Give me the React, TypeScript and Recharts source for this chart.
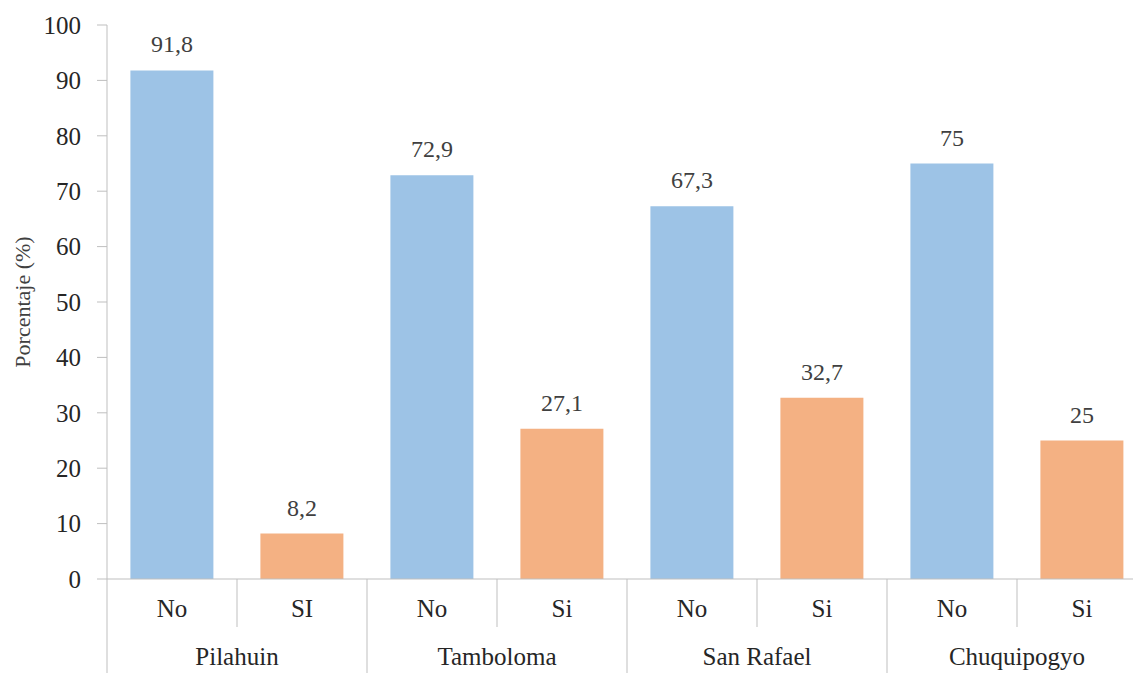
import { BarChart, Bar, XAxis, YAxis, Cell, LabelList } from 'recharts';

const groups = ['Pilahuin', 'Tamboloma', 'San Rafael', 'Chuquipogyo'];
const answers = ['No', 'SI', 'No', 'Si', 'No', 'Si', 'No', 'Si'];
const noValues = [91.8, 72.9, 67.3, 75];
const siValues = [8.2, 27.1, 32.7, 25];
const yTicks = [0, 10, 20, 30, 40, 50, 60, 70, 80, 90, 100];

const data = answers.map((answer, i) => {
  const g = Math.floor(i / 2);
  return {
    key: `${groups[g]}-${answer}-${i}`,
    answer,
    group: groups[g],
    value: i % 2 === 0 ? noValues[g] : siValues[g],
  };
});

const CHART_W = 1160;
const CHART_H = 673;
const Y_AXIS_W = 107;
const MARGIN = { top: 25, right: 13, left: 0, bottom: 0 };
const BAND = (CHART_W - MARGIN.left - MARGIN.right - Y_AXIS_W) / data.length;

const BLUE = '#9DC3E6';
const ORANGE = '#F4B183';
const GRID = '#BFBFBF';
const SERIF = 'Liberation Serif';
const textStyle = { fontFamily: SERIF, fontSize: 25, fill: '#262626' };

// Two-level category axis: answer under each bar, district under each pair
function CategoryTick(props: any) {
  const { x, y, payload } = props;
  const i = payload.index;
  const row = data[i];
  const left = x - BAND / 2;
  return (
    <g>
      <line x1={left} y1={y} x2={left} y2={y + (i % 2 === 0 ? 100 : 48)} stroke={GRID} strokeWidth={1} />
      <text x={x} y={y + 38} textAnchor="middle" style={textStyle}>
        {row.answer}
      </text>
      {i % 2 === 0 && (
        <text x={x + BAND / 2} y={y + 86} textAnchor="middle" style={textStyle}>
          {row.group}
        </text>
      )}
    </g>
  );
}

export default function App() {
  return (
    <div style={{ position: 'fixed', left: 0, top: 0, width: 1133, height: 673, overflow: 'hidden', background: '#fff' }}>
      <BarChart width={CHART_W} height={CHART_H} data={data} margin={MARGIN} barCategoryGap="18%">
        <XAxis
          dataKey="key"
          height={94}
          interval={0}
          tick={<CategoryTick />}
          tickLine={false}
          tickSize={0}
          tickMargin={0}
          axisLine={{ stroke: GRID }}
        />
        <YAxis
          width={Y_AXIS_W}
          domain={[0, 100]}
          ticks={yTicks}
          interval={0}
          tickSize={10}
          tickMargin={16}
          axisLine={{ stroke: GRID }}
          tickLine={{ stroke: GRID }}
          tick={{ fill: '#262626', fontSize: 25, fontFamily: SERIF }}
          label={{
            value: 'Porcentaje (%)',
            angle: -90,
            position: 'insideLeft',
            offset: 22,
            style: { textAnchor: 'middle', fontSize: 22, fill: '#404040', fontFamily: SERIF },
          }}
        />
        <Bar dataKey="value" isAnimationActive={false}>
          {data.map((d, i) => (
            <Cell key={d.key} fill={i % 2 === 0 ? BLUE : ORANGE} />
          ))}
          <LabelList
            dataKey="value"
            position="top"
            offset={18}
            formatter={(v: any) => String(v).replace('.', ',')}
            style={{ fill: '#404040', fontSize: 24, fontFamily: SERIF }}
          />
        </Bar>
      </BarChart>
    </div>
  );
}
